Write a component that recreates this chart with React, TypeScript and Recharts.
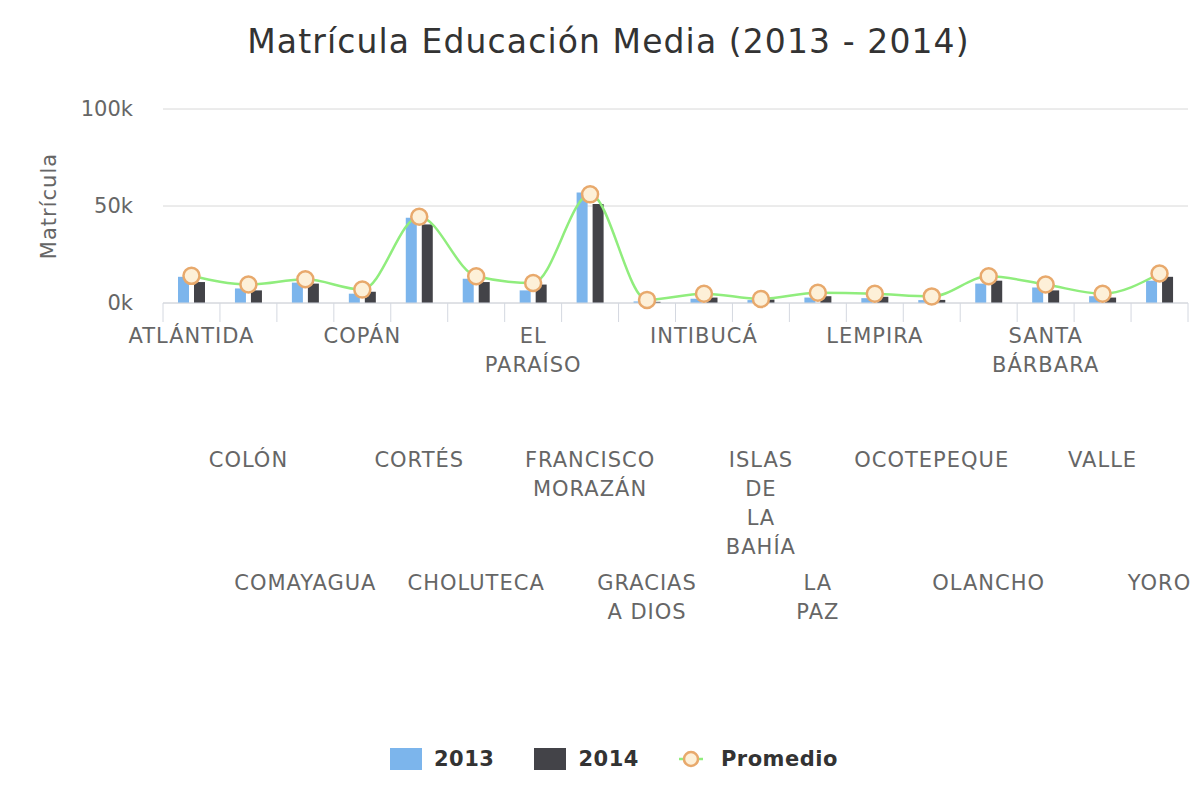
import React from 'react';
import {
    ComposedChart, Bar, Line, XAxis, YAxis, CartesianGrid
} from 'recharts';

// departamentos, in the order of the x axis
const categories = [
    'ATLÁNTIDA', 'COLÓN', 'COMAYAGUA', 'COPÁN', 'CORTÉS', 'CHOLUTECA',
    'EL PARAÍSO', 'FRANCISCO MORAZÁN', 'GRACIAS A DIOS', 'INTIBUCÁ',
    'ISLAS DE LA BAHÍA', 'LA PAZ', 'LEMPIRA', 'OCOTEPEQUE', 'OLANCHO',
    'SANTA BÁRBARA', 'VALLE', 'YORO',
];

// how each tick label wraps in the original
const tickLabels = [
    'ATLÁNTIDA', 'COLÓN', 'COMAYAGUA', 'COPÁN', 'CORTÉS', 'CHOLUTECA',
    'EL\nPARAÍSO', 'FRANCISCO\nMORAZÁN', 'GRACIAS\nA DIOS', 'INTIBUCÁ',
    'ISLAS\nDE\nLA\nBAHÍA', 'LA\nPAZ', 'LEMPIRA', 'OCOTEPEQUE', 'OLANCHO',
    'SANTA\nBÁRBARA', 'VALLE', 'YORO',
];

const matricula2013 = [13500, 7500, 10500, 4800, 44000, 12500, 6500, 57000, 800, 2200, 1500, 2800, 2500, 1500, 10000, 8000, 3500, 11500];
const matricula2014 = [10800, 6500, 10000, 5800, 40500, 10800, 9500, 51000, 600, 2800, 1800, 3500, 3200, 1600, 11500, 6500, 2800, 13500];
const promedio = [14000, 9500, 12200, 6900, 44500, 13800, 10300, 56000, 1600, 4800, 2100, 5300, 4800, 3400, 13800, 9500, 4800, 15200];

const yTicks = [0, 50000, 100000];

const chartData = categories.map((name, i) => ({
    name,
    y2013: matricula2013[i],
    y2014: matricula2014[i],
    promedio: promedio[i],
}));

const WIDTH = 1185;
const HEIGHT = 781;
const MARGIN = { top: 101, right: 5, left: 35, bottom: 156 };
const Y_AXIS_W = 120;
const X_AXIS_H = 330;
const BAND = (WIDTH - MARGIN.left - MARGIN.right - Y_AXIS_W) / categories.length;

const ROW_OFFSETS = [40, 164, 287];
const LINE_H = 29;
const LABEL_FONT = { fontSize: 21, letterSpacing: 1 };

const CategoryTick = (props: any) => {
    const { x, y, payload, index } = props;
    const label: string = tickLabels[index] ?? payload.value;
    const lines = label.split('\n');
    const row = index % 3;
    const isLast = index === categories.length - 1;
    return (
        <g>
            <line x1={x - BAND / 2} y1={y} x2={x - BAND / 2} y2={y + 19} stroke="#d4d8e0" />
            {isLast && <line x1={x + BAND / 2} y1={y} x2={x + BAND / 2} y2={y + 19} stroke="#d4d8e0" />}
            <text x={x} y={y + ROW_OFFSETS[row]} textAnchor="middle" fill="#666" style={LABEL_FONT}>
                {lines.map((l, i) => (
                    <tspan key={i} x={x} dy={i === 0 ? 0 : LINE_H}>{l}</tspan>
                ))}
            </text>
        </g>
    );
};

const LegendItem: React.FC<{ kind: 'bar' | 'line'; color: string; label: string; gap: number }> = ({ kind, color, label, gap }) => (
    <div style={{ display: 'flex', alignItems: 'center', marginRight: gap }}>
        {kind === 'bar' ? (
            <div style={{ width: 32, height: 22, background: color, marginRight: 12 }} />
        ) : (
            <svg width={24} height={22} style={{ marginRight: 18 }}>
                <line x1={0} y1={11} x2={24} y2={11} stroke="#90ed7d" strokeWidth={2.5} />
                <circle cx={12} cy={11} r={7} fill="#fdf0d8" stroke="#e8a96c" strokeWidth={2.5} />
            </svg>
        )}
        <span style={{ fontWeight: 'bold', fontSize: 21, letterSpacing: 0.5, color: '#333' }}>{label}</span>
    </div>
);

const App: React.FC = () => {
    return (
        <div style={{ position: 'relative', width: WIDTH, height: HEIGHT, fontFamily: '"DejaVu Sans", sans-serif' }}>
            <div style={{
                position: 'absolute', top: 14, left: 8, width: WIDTH, height: 40, lineHeight: '40px',
                textAlign: 'center', fontSize: 33, letterSpacing: 1.1, color: '#333',
            }}>
                Matrícula Educación Media (2013 - 2014)
            </div>
            <ComposedChart width={WIDTH} height={HEIGHT} data={chartData} margin={MARGIN} barGap={5}>
                <CartesianGrid vertical={false} stroke="#d8d8d8" />
                <XAxis
                    dataKey="name"
                    interval={0}
                    tickLine={false}
                    tickSize={0}
                    tickMargin={0}
                    height={X_AXIS_H}
                    axisLine={{ stroke: '#d4d8e0' }}
                    tick={<CategoryTick />}
                />
                <YAxis
                    width={Y_AXIS_W}
                    domain={[0, 100000]}
                    ticks={yTicks}
                    axisLine={false}
                    tickLine={false}
                    tickMargin={24}
                    tick={{ fill: '#666', fontSize: 21 }}
                    tickFormatter={(v: number) => `${v / 1000}k`}
                    label={{
                        value: 'Matrícula', angle: -90, position: 'insideLeft', offset: 6,
                        style: { textAnchor: 'middle', fill: '#666', fontSize: 21, letterSpacing: 1 },
                    }}
                />
                <Bar dataKey="y2013" name="2013" fill="#7cb5ec" barSize={11} isAnimationActive={false} />
                <Bar dataKey="y2014" name="2014" fill="#434348" barSize={11} isAnimationActive={false} />
                <Line
                    type="monotone"
                    dataKey="promedio"
                    name="Promedio"
                    stroke="#90ed7d"
                    strokeWidth={2.5}
                    dot={{ r: 8, fill: '#fdf0d8', stroke: '#e8a96c', strokeWidth: 2.5 }}
                    isAnimationActive={false}
                />
            </ComposedChart>
            <div style={{ position: 'absolute', top: 739, left: 382, display: 'flex', alignItems: 'center' }}>
                <LegendItem kind="bar" color="#7cb5ec" label="2013" gap={40} />
                <LegendItem kind="bar" color="#434348" label="2014" gap={40} />
                <LegendItem kind="line" color="#90ed7d" label="Promedio" gap={0} />
            </div>
        </div>
    );
};

export default App;
